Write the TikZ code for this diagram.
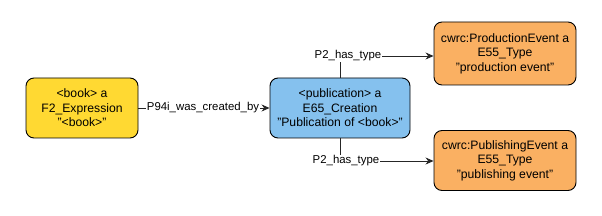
\documentclass[tikz,border=0pt]{standalone}
\usepackage{fontspec}
\setmainfont{Liberation Sans}
\usetikzlibrary{arrows.meta}
\definecolor{yel}{HTML}{FFD932}
\definecolor{blu}{HTML}{85C1EE}
\definecolor{ora}{HTML}{FAB062}
\begin{document}
\begin{tikzpicture}[x=1pt,y=-1pt,
  box/.style={draw=black, line width=0.9pt, rounded corners=8pt, align=center,
    minimum height=60pt, inner sep=0pt, font=\fontsize{12.2}{14.6}\selectfont},
  elabel/.style={fill=white, inner sep=1pt, font=\fontsize{11.4}{13}\selectfont},
  conn/.style={draw=black!85, line width=0.8pt, -{Stealth[length=8pt,width=7pt]}}]
\useasboundingbox (0,0) rectangle (602,216);
\node[box, fill=yel, minimum width=112pt] (book) at (82,108) {<book> a\\F2\_Expression\\"<book>"};
\node[box, fill=blu, minimum width=140pt] (pub) at (340,108) {<publication> a\\E65\_Creation\\"Publication of <book>"};
\node[box, fill=ora, minimum width=142pt, minimum height=63pt] (prod) at (505,53.5) {cwrc:ProductionEvent a\\E55\_Type\\"production event"};
\node[box, fill=ora, minimum width=142pt] (publ) at (505,160.5) {cwrc:PublishingEvent a\\E55\_Type\\"publishing event"};
\draw[conn] (book) -- node[elabel, xshift=-1pt] (l1) {P94i\_was\_created\_by} (pub);
\coordinate (c1) at (340,56);
\coordinate (c2) at (340,161);
\draw[conn] (pub.north) -- (c1) -- (c1 -| prod.west);
\node[elabel] (l2) at (348,56) {P2\_has\_type};
\draw[conn] (pub.south) -- (c2) -- (c2 -| publ.west);
\node[elabel] (l3) at (346,161) {P2\_has\_type};
\end{tikzpicture}
\end{document}
